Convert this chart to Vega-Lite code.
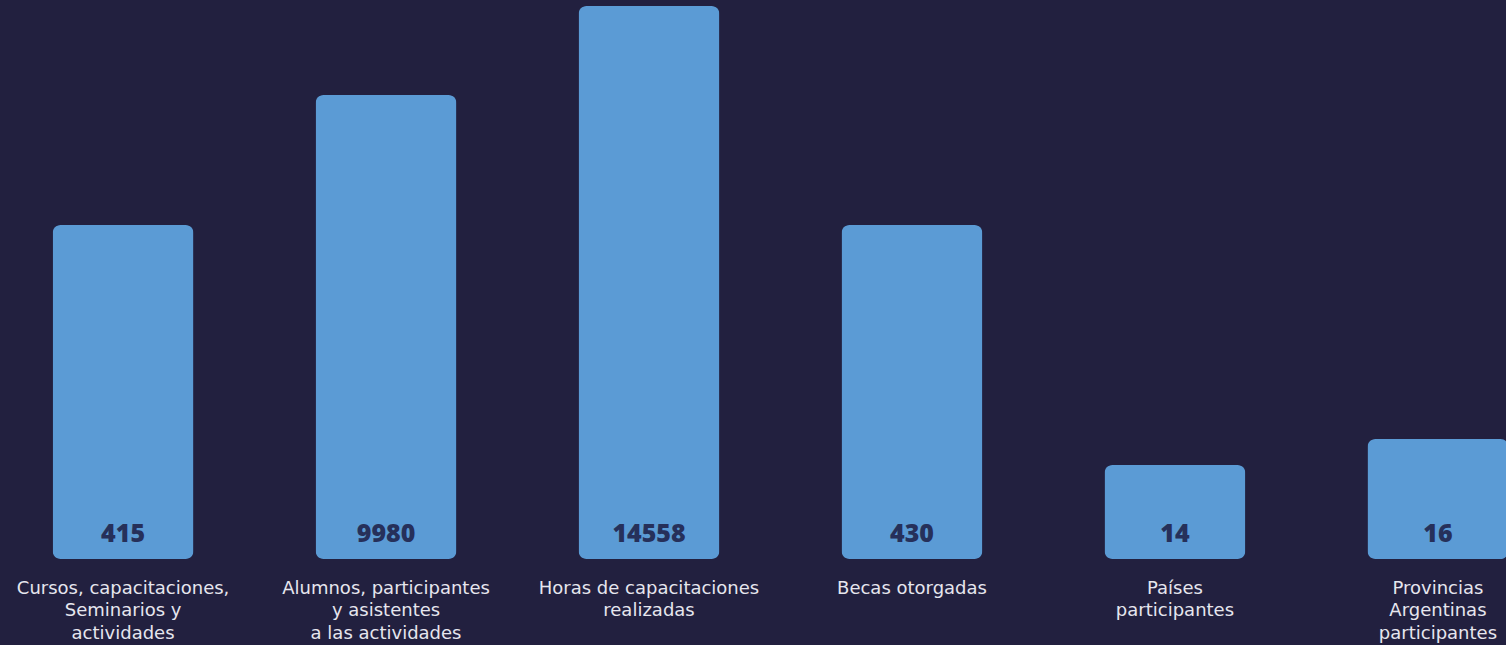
{
  "$schema": "https://vega.github.io/schema/vega-lite/v6.json",
  "width": 1506,
  "height": 559,
  "autosize": {"type": "none"},
  "padding": {"left": 0, "top": 0, "right": 0, "bottom": 86},
  "background": "#22203f",
  "config": {"view": {"stroke": null}},
  "data": {
    "values": [
      {"categoria": "Cursos, capacitaciones,|Seminarios y|actividades", "valor": 415},
      {"categoria": "Alumnos, participantes|y asistentes|a las actividades", "valor": 9980},
      {"categoria": "Horas de capacitaciones|realizadas", "valor": 14558},
      {"categoria": "Becas otorgadas", "valor": 430},
      {"categoria": "Países|participantes", "valor": 14},
      {"categoria": "Provincias|Argentinas|participantes", "valor": 16}
    ]
  },
  "encoding": {
    "x": {
      "field": "categoria",
      "type": "nominal",
      "sort": null,
      "scale": {"range": [0, 1561], "paddingInner": 0.464, "paddingOuter": 0.2},
      "axis": {
        "title": null,
        "domain": false,
        "ticks": false,
        "labelAngle": 0,
        "labelExpr": "split(datum.label, '|')",
        "labelFont": "DejaVu Sans",
        "labelFontSize": 18,
        "labelColor": "#e6e6ee",
        "labelPadding": 20,
        "labelBaseline": "top",
        "labelLineHeight": 22.5,
        "labelAlign": "center",
        "labelOverlap": false,
        "labelLimit": 0,
        "labelBound": false
      }
    }
  },
  "layer": [
    {
      "mark": {"type": "bar", "color": "#5b9bd5", "cornerRadius": 8},
      "encoding": {
        "y": {
          "field": "valor",
          "type": "quantitative",
          "scale": {
            "domain": [0, 14, 16, 415, 430, 9980, 14558],
            "range": [559, 465, 439, 225, 225, 95, 6],
            "zero": false,
            "nice": false
          },
          "axis": null
        }
      }
    },
    {
      "mark": {
        "type": "text",
        "font": "Open Sans",
        "fontSize": 25,
        "fontWeight": 800,
        "color": "#26305a",
        "baseline": "middle",
        "dy": -25
      },
      "encoding": {
        "y": {"datum": 0, "type": "quantitative"},
        "text": {"field": "valor", "type": "quantitative", "format": "d"}
      }
    }
  ]
}
